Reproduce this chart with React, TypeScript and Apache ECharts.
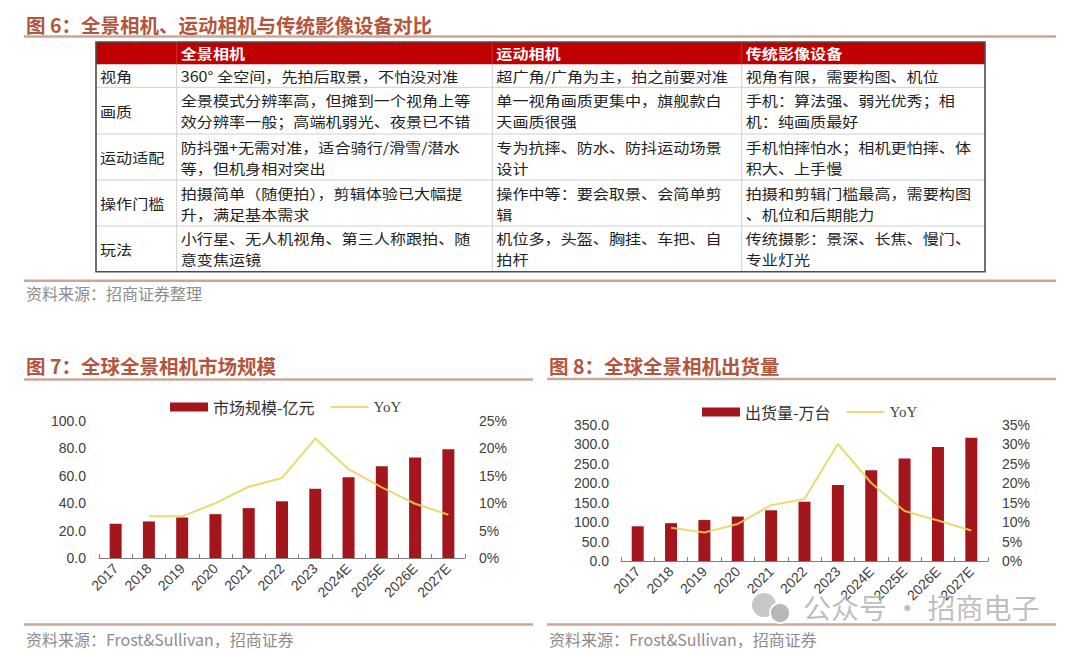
import { useEffect, useRef } from 'react';
import * as echarts from 'echarts';

// ---------- data ----------
const years = ['2017', '2018', '2019', '2020', '2021', '2022', '2023', '2024E', '2025E', '2026E', '2027E'];
const marketSize = [25.0, 26.7, 29.6, 32.0, 36.4, 41.4, 50.6, 59.0, 67.0, 73.3, 79.4];
const marketYoY = [null, 7.6, 7.6, 10.0, 13.0, 14.6, 21.8, 16.2, 12.9, 9.9, 7.9];
const shipments = [89, 97, 105, 114, 130, 152, 195, 233, 263, 292, 316];
const shipmentYoY = [null, 8.5, 7.3, 9.5, 14.3, 15.9, 30.0, 20.0, 12.8, 10.4, 7.8];

const tableHeaders = ['', '全景相机', '运动相机', '传统影像设备'];
const tableRowLabels = ['视角', '画质', '运动适配', '操作门槛', '玩法'];
const panoramicCol = [
  '360° 全空间，先拍后取景，不怕没对准',
  '全景模式分辨率高，但摊到一个视角上等\n效分辨率一般；高端机弱光、夜景已不错',
  '防抖强+无需对准，适合骑行/滑雪/潜水\n等，但机身相对突出',
  '拍摄简单（随便拍），剪辑体验已大幅提\n升，满足基本需求',
  '小行星、无人机视角、第三人称跟拍、随\n意变焦运镜',
];
const actionCol = [
  '超广角/广角为主，拍之前要对准',
  '单一视角画质更集中，旗舰款白\n天画质很强',
  '专为抗摔、防水、防抖运动场景\n设计',
  '操作中等：要会取景、会简单剪\n辑',
  '机位多，头盔、胸挂、车把、自\n拍杆',
];
const traditionalCol = [
  '视角有限，需要构图、机位',
  '手机：算法强、弱光优秀；相\n机：纯画质最好',
  '手机怕摔怕水；相机更怕摔、体\n积大、上手慢',
  '拍摄和剪辑门槛最高，需要构图\n、机位和后期能力',
  '传统摄影：景深、长焦、慢门、\n专业灯光',
];

const title6 = '图 6：全景相机、运动相机与传统影像设备对比';
const title7 = '图 7：全球全景相机市场规模';
const title8 = '图 8：全球全景相机出货量';
const source6 = '资料来源：招商证券整理';
const sourceCharts = '资料来源：Frost&Sullivan，招商证券';
const watermark = '公众号 · 招商电子';

// ---------- styles ----------
const CJK = '"Noto Sans CJK SC", "Noto Sans", sans-serif';
const LATIN = '"Liberation Sans", Arial, sans-serif';
const SERIF = '"Liberation Serif", "DejaVu Serif", serif';
const TITLE_COLOR = '#b3553d';
const RULE_COLOR = '#c9a898';
const BAR_COLOR = '#a3161b';
const LINE_COLOR = '#e6d35c';
const AXIS_TEXT = '#404040';

const colX = [96, 176.7, 492.3, 741.7, 985];
const rowY = [42, 64.3, 87.3, 134, 180, 226, 271.7];

function buildGraphic(): any[] {
  const els: any[] = [];
  const text = (t: string, x: number, y: number, o: any = {}) => ({
    type: 'text',
    x,
    y,
    scaleX: o.scaleX ?? 1,
    silent: true,
    style: {
      text: t,
      fontSize: o.fontSize ?? 16,
      fontFamily: o.fontFamily ?? CJK,
      fontWeight: o.fontWeight ?? 'normal',
      fill: o.fill ?? '#222',
      align: o.align ?? 'left',
      verticalAlign: 'middle',
      lineHeight: o.lineHeight ?? 21,
      opacity: o.opacity ?? 1,
    },
    z: 10,
  });
  const rule = (x1: number, x2: number, y: number) => ({
    type: 'line',
    silent: true,
    shape: { x1, y1: y, x2, y2: y },
    style: { stroke: RULE_COLOR, lineWidth: 2.5 },
  });

  // titles and rules
  els.push(text(title6, 26, 24, { fontSize: 19.5, fontWeight: 'bold', fill: TITLE_COLOR }));
  els.push(rule(24, 1056, 36.5));
  els.push(text(title7, 26, 365, { fontSize: 19.5, fontWeight: 'bold', fill: TITLE_COLOR }));
  els.push(rule(24, 533, 379.5));
  els.push(text(title8, 549, 365, { fontSize: 19.5, fontWeight: 'bold', fill: TITLE_COLOR }));
  els.push(rule(547, 1056, 379));

  // table
  const tl = colX[0];
  const tr = colX[colX.length - 1];
  const tt = rowY[0];
  const tb = rowY[rowY.length - 1];
  els.push({
    type: 'rect',
    silent: true,
    shape: { x: tl, y: tt, width: tr - tl, height: rowY[1] - tt },
    style: { fill: '#c00000' },
  });
  for (let i = 2; i < rowY.length - 1; i++) {
    els.push({
      type: 'line',
      silent: true,
      shape: { x1: tl, y1: rowY[i], x2: tr, y2: rowY[i] },
      style: { stroke: '#cfcfcf', lineWidth: 1 },
    });
  }
  for (let j = 1; j < colX.length - 1; j++) {
    els.push({
      type: 'line',
      silent: true,
      shape: { x1: colX[j], y1: rowY[1], x2: colX[j], y2: tb },
      style: { stroke: '#cfcfcf', lineWidth: 1 },
    });
    els.push({
      type: 'line',
      silent: true,
      shape: { x1: colX[j], y1: tt, x2: colX[j], y2: rowY[1] },
      style: { stroke: '#d23a3a', lineWidth: 0.8 },
    });
  }
  els.push({
    type: 'rect',
    silent: true,
    shape: { x: tl, y: tt, width: tr - tl, height: tb - tt },
    style: { fill: 'none', stroke: '#4d4d4d', lineWidth: 1.6 },
    z: 5,
  });
  const cellFont = { fontSize: 14, scaleX: 1.15, lineHeight: 21 };
  const headY = (rowY[0] + rowY[1]) / 2;
  tableHeaders.forEach((h, j) => {
    if (h) els.push(text(h, colX[j] + 4, headY, { ...cellFont, fill: '#ffffff', fontWeight: 'bold' }));
  });
  const cols = [tableRowLabels, panoramicCol, actionCol, traditionalCol];
  tableRowLabels.forEach((_, i) => {
    const cy = (rowY[i + 1] + rowY[i + 2]) / 2;
    cols.forEach((col, j) => {
      els.push(text(col[i], colX[j] + 4, cy, { ...cellFont, fill: '#1f1f1f' }));
    });
  });

  // sources
  els.push(rule(24, 1056, 280.7));
  els.push(text(source6, 26, 293, { fontSize: 16, fill: '#8c8c8c' }));
  els.push(rule(24, 533, 624.5));
  els.push(text(sourceCharts, 26, 638.5, { fontSize: 16, fill: '#8c8c8c' }));
  els.push(rule(547, 1056, 624.5));
  els.push(text(sourceCharts, 549, 638.5, { fontSize: 16, fill: '#8c8c8c' }));

  // watermark
  els.push({
    type: 'circle',
    silent: true,
    shape: { cx: 764, cy: 605, r: 12 },
    style: { fill: '#bdbdbd', opacity: 0.85 },
    z: 20,
  });
  els.push({
    type: 'circle',
    silent: true,
    shape: { cx: 780, cy: 613, r: 10 },
    style: { fill: '#b0b0b0', stroke: '#ffffff', lineWidth: 2, opacity: 0.9 },
    z: 21,
  });
  els.push({
    ...text(watermark, 803, 607, { fontSize: 28, fill: '#b3b3b3', opacity: 0.85 }),
    z: 22,
  });
  return els;
}

function xAxisCfg(gridIndex: number) {
  return {
    type: 'category',
    gridIndex,
    data: years,
    boundaryGap: true,
    axisLine: { show: true, lineStyle: { color: '#7f7f7f', width: 1 } },
    axisTick: { show: true, inside: true, length: 4, lineStyle: { color: '#7f7f7f' } },
    axisLabel: {
      rotate: 45,
      interval: 0,
      margin: 8,
      fontSize: 14,
      fontFamily: LATIN,
      color: AXIS_TEXT,
    },
    splitLine: { show: false },
  };
}

function yAxisCfg(gridIndex: number, position: string, max: number, interval: number, pct: boolean, margin: number) {
  return {
    type: 'value',
    gridIndex,
    position,
    min: 0,
    max,
    interval,
    axisLine: { show: false },
    axisTick: { show: false },
    splitLine: { show: false },
    axisLabel: {
      margin,
      fontSize: 14,
      fontFamily: LATIN,
      color: AXIS_TEXT,
      formatter: (v: number) => (pct ? `${v}%` : v.toFixed(1)),
    },
  };
}

const legendFormatter = (name: string) => (name === 'YoY' ? `{s|YoY}` : name);
function legendCfg(left: number, top: number, barName: string) {
  return {
    left,
    top,
    itemWidth: 38,
    itemHeight: 9,
    itemGap: 15,
    selectedMode: false,
    data: [
      { name: barName, icon: 'rect' },
      { name: 'YoY', itemStyle: { opacity: 0 }, lineStyle: { width: 2, color: LINE_COLOR } },
    ],
    formatter: legendFormatter,
    textStyle: {
      fontSize: 16,
      fontFamily: CJK,
      color: '#333',
      rich: { s: { fontSize: 15, fontFamily: SERIF, color: '#444' } },
    },
  };
}

export default function App() {
  const ref = useRef<HTMLDivElement>(null);
  useEffect(() => {
    if (!ref.current) return;
    const chart = echarts.init(ref.current, null, { renderer: 'svg' });
    chart.setOption({
      animation: false,
      backgroundColor: '#ffffff',
      grid: [
        { left: 99, top: 421, width: 366, height: 137, containLabel: false },
        { left: 621, top: 424.5, width: 367, height: 136.5, containLabel: false },
      ],
      legend: [legendCfg(165, 394, '市场规模-亿元'), legendCfg(697, 399, '出货量-万台')],
      xAxis: [xAxisCfg(0), xAxisCfg(1)],
      yAxis: [
        yAxisCfg(0, 'left', 100, 20, false, 13),
        yAxisCfg(0, 'right', 25, 5, true, 14),
        yAxisCfg(1, 'left', 350, 50, false, 12),
        yAxisCfg(1, 'right', 35, 5, true, 14),
      ],
      series: [
        {
          name: '市场规模-亿元',
          type: 'bar',
          xAxisIndex: 0,
          yAxisIndex: 0,
          data: marketSize,
          barWidth: 12,
          itemStyle: { color: BAR_COLOR },
        },
        {
          name: 'YoY',
          type: 'line',
          xAxisIndex: 0,
          yAxisIndex: 1,
          data: marketYoY,
          symbol: 'none',
          itemStyle: { color: LINE_COLOR },
          lineStyle: { color: LINE_COLOR, width: 2, opacity: 0.85 },
        },
        {
          name: '出货量-万台',
          type: 'bar',
          xAxisIndex: 1,
          yAxisIndex: 2,
          data: shipments,
          barWidth: 12,
          itemStyle: { color: BAR_COLOR },
        },
        {
          name: 'YoY',
          type: 'line',
          xAxisIndex: 1,
          yAxisIndex: 3,
          data: shipmentYoY,
          symbol: 'none',
          itemStyle: { color: LINE_COLOR },
          lineStyle: { color: LINE_COLOR, width: 2, opacity: 0.85 },
        },
      ],
      graphic: buildGraphic(),
    });
    return () => chart.dispose();
  }, []);
  return (
    <div
      ref={ref}
      style={{ position: 'absolute', left: 0, top: 0, width: 1080, height: 650, background: '#fff' }}
    />
  );
}
